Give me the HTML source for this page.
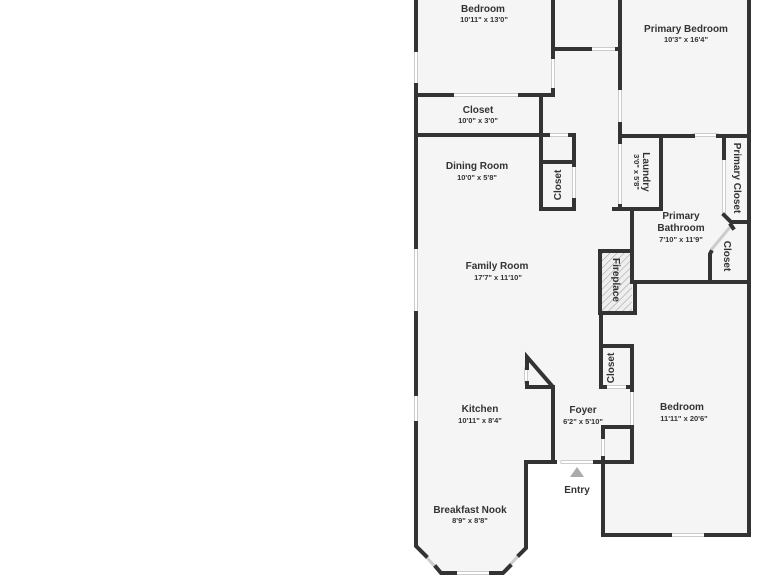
<!DOCTYPE html>
<html><head><style>
html,body{margin:0;padding:0;background:#fff;width:768px;height:576px;overflow:hidden}
svg{display:block}
text{font-family:"Liberation Sans",sans-serif;fill:#333;text-anchor:middle}
.n{font-size:10px;font-weight:bold}
.d{font-size:7.5px;font-weight:bold}
</style></head><body>
<svg width="768" height="576" viewBox="0 0 768 576">
<defs>
<pattern id="h" width="5" height="5" patternUnits="userSpaceOnUse" patternTransform="rotate(45)">
<rect width="5" height="5" fill="#eee"/><line x1="0" y1="0" x2="0" y2="5" stroke="#999" stroke-width="1"/>
</pattern>
</defs>
<polygon points="416,0 749,0 749,535 603,535 603,462 526,462 526,548 503,573 441,573 416,546" fill="#f5f5f5"/>
<!-- doors/windows light lines -->
<g stroke="#ccc" stroke-width="1" fill="#fff">
<rect x="414.5" y="50" width="3" height="35"/>
<rect x="414.5" y="247" width="3" height="66"/>
<rect x="414.5" y="394" width="3" height="29"/>
<rect x="452" y="93.5" width="68" height="3"/>
<rect x="551.5" y="57" width="3" height="33"/>
<rect x="590" y="47.5" width="27" height="3"/>
<rect x="618.5" y="88" width="3" height="36"/>
<rect x="548" y="133.5" width="22" height="3"/>
<rect x="572.5" y="165" width="3" height="35"/>
<rect x="693" y="133.5" width="25" height="3"/>
<rect x="618.5" y="142" width="3" height="64"/>
<rect x="722.5" y="158" width="3" height="57"/>
<rect x="605" y="385.5" width="23" height="3"/>
<rect x="630.5" y="390" width="3" height="37"/>
<rect x="601.5" y="437" width="3" height="21"/>
<rect x="561" y="460.5" width="34" height="3"/>
<rect x="670" y="533.5" width="36" height="3"/>
<rect x="524.5" y="368" width="3" height="15"/>
<rect x="455" y="571.5" width="36" height="3"/>
<line x1="711" y1="250" x2="731" y2="226" stroke-width="3"/>
<line x1="420" y1="550" x2="438" y2="570" stroke-width="3"/>
<line x1="506" y1="569" x2="523" y2="551" stroke-width="3"/>
</g>
<rect x="600" y="251" width="32" height="62" fill="url(#h)"/>
<g stroke="#333" stroke-width="4" fill="none" stroke-linecap="square">
<!-- outer -->
<path d="M416,0 V50 M416,85 V247 M416,313 V394 M416,423 V546 L426,556"/>
<path d="M749,0 V535 H706 M670,535 H603 V462"/>
<path d="M436,567 L441,573 H455 M491,573 H503 L510,566"/>
<path d="M519,555 L526,548 V462 H555 M595,462 H632 V427 M603,462 V458 M603,437 V427 H632"/>
<!-- upper -->
<path d="M553,0 V57 M553,90 V95 H520 M452,95 H416"/>
<path d="M553,49 H590 M617,49 H620 M620,0 V88 M620,124 V136"/>
<path d="M416,135 H548 M570,135 H574 V165 M574,200 V209 H541 V95 M541,162 H574"/>
<path d="M620,136 H693 M718,136 H749"/>
<path d="M661,136 V209 H614 M620,136 V142 M620,206 V209"/>
<path d="M632,209 V282 H749 M724,136 V158 M724,215 L731,222 H749 M731,225 L733,228"/>
<path d="M711,252 L710,254 V282"/>
<!-- fireplace -->
<path d="M600,251 H632 M600,251 V313 H635 M635,282 V313"/>
<path d="M601,313 V346 H632 V387 H628 M605,387 H601 V346"/>
<path d="M632,387 V390"/>
<!-- kitchen -->
<path d="M553,462 V387 L527,357 V368 M527,383 V387 H553"/>
</g>
<polygon points="577,467 570,477 584,477" fill="#aaa"/>
<text class="n" x="483" y="12">Bedroom</text><text class="d" x="484" y="22">10'11" x 13'0"</text>
<text class="n" x="686" y="32">Primary Bedroom</text><text class="d" x="686" y="42">10'3" x 16'4"</text>
<text class="n" x="478" y="113">Closet</text><text class="d" x="478" y="123">10'0" x 3'0"</text>
<text class="n" x="477" y="169">Dining Room</text><text class="d" x="477" y="180">10'0" x 5'8"</text>
<text class="n" x="497" y="269">Family Room</text><text class="d" x="498" y="280">17'7" x 11'10"</text>
<text class="n" x="480" y="412">Kitchen</text><text class="d" x="480" y="423">10'11" x 8'4"</text>
<text class="n" x="583" y="413">Foyer</text><text class="d" x="583" y="424">6'2" x 5'10"</text>
<text class="n" x="682" y="410">Bedroom</text><text class="d" x="684" y="421">11'11" x 20'6"</text>
<text class="n" x="470" y="513">Breakfast Nook</text><text class="d" x="470" y="523">8'9" x 8'8"</text>
<text class="n" x="577" y="493">Entry</text>
<text class="n" x="681" y="219">Primary</text><text class="n" x="681" y="231">Bathroom</text><text class="d" x="681" y="242">7'10" x 11'9"</text>
<text class="n" transform="translate(561,185) rotate(-90)">Closet</text>
<text class="n" transform="translate(614,368) rotate(-90)">Closet</text>
<text class="n" transform="translate(643,172) rotate(90)">Laundry</text>
<text class="d" transform="translate(634,172) rotate(90)">3'0" x 5'8"</text>
<text class="n" transform="translate(734,178) rotate(90)">Primary Closet</text>
<text class="n" transform="translate(724,256) rotate(90)">Closet</text>
<text class="n" transform="translate(613,280) rotate(90)">Fireplace</text>
</svg>
</body></html>
